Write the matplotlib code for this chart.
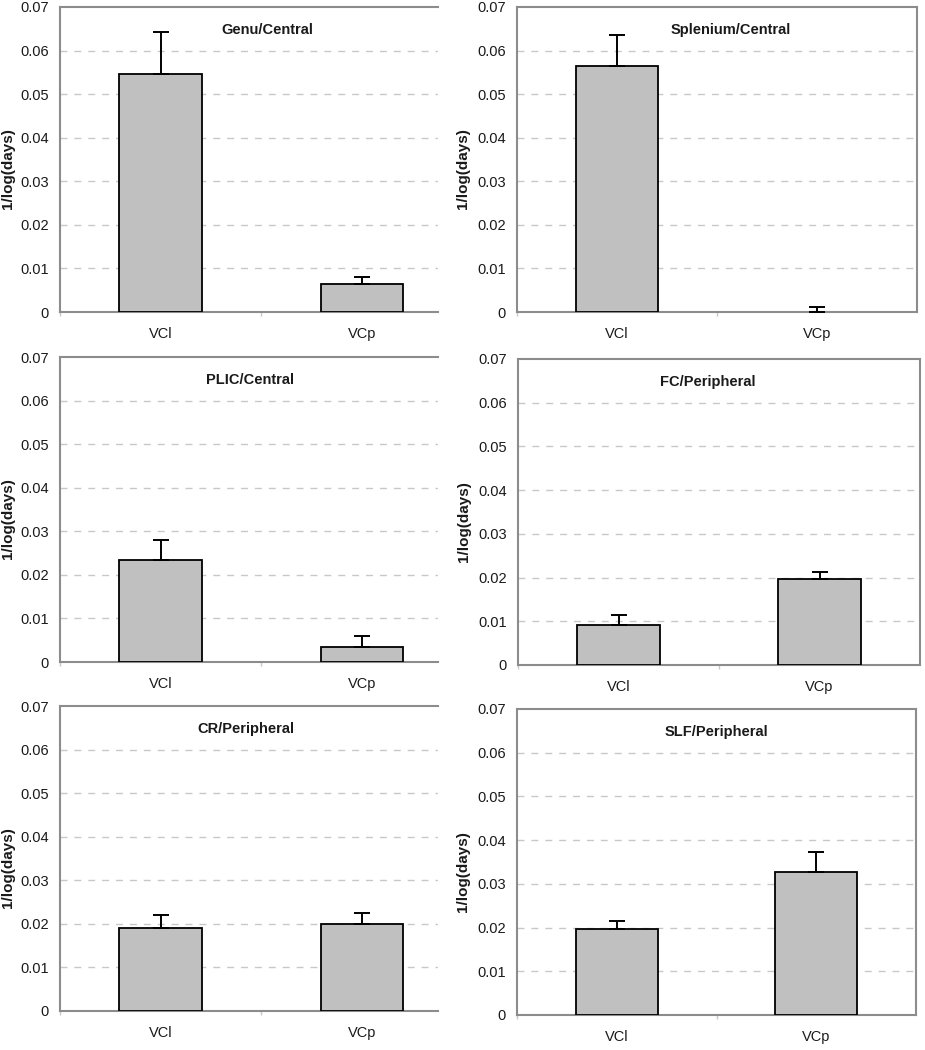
import numpy as np
import matplotlib
matplotlib.use("Agg")
import matplotlib.pyplot as plt

plt.rcParams['font.family'] = ['Liberation Sans', 'DejaVu Sans']

# Data
groups = ["VCl", "VCp"]
titles = ["Genu/Central", "Splenium/Central", "PLIC/Central",
          "FC/Peripheral", "CR/Peripheral", "SLF/Peripheral"]
means = [
    [0.0547, 0.0065],
    [0.0565, 0.0],
    [0.0235, 0.0035],
    [0.0091, 0.0197],
    [0.0190, 0.0199],
    [0.0196, 0.0328],
]
errors = [
    [0.0096, 0.0015],
    [0.0071, 0.0011],
    [0.0045, 0.0025],
    [0.0024, 0.0015],
    [0.0030, 0.0025],
    [0.0019, 0.0045],
]
yticks = [0, 0.01, 0.02, 0.03, 0.04, 0.05, 0.06, 0.07]
ytick_labels = ["0", "0.01", "0.02", "0.03", "0.04", "0.05", "0.06", "0.07"]

W, H = 925, 1050
# panel boxes in pixels: left, right, top, bottom
boxes = [
    (60, 438, 7, 312),
    (517, 917, 7, 312),
    (60, 438, 357, 662),
    (518, 920, 359, 665),
    (60, 438, 706, 1011),
    (517, 916, 709, 1015),
]
title_x = [0.548, 0.535, 0.503, 0.473, 0.492, 0.499]
frame_col = "#8c8c8c"
text_col = "#1a1a1a"

fig = plt.figure(figsize=(W / 100, H / 100), dpi=100)

for i in range(6):
    l, r, t, b = boxes[i]
    ax = fig.add_axes([l / W, 1 - b / H, (r - l) / W, (b - t) / H])
    x = np.arange(len(groups))
    # zero-height bars leave no outline in the original
    lw = [1.3 if v > 0 else 0 for v in means[i]]
    ax.bar(x, means[i], width=0.41, color="#c0c0c0", edgecolor="black",
           linewidth=lw, zorder=3)
    ax.errorbar(x, means[i], yerr=[np.zeros(2), errors[i]], fmt="none",
                ecolor="black", elinewidth=1.4, capsize=5.5, capthick=1.4, zorder=4)

    left_col = (i % 2 == 0)
    ax.set_xlim(-0.5, 1.378 if left_col else 1.5)
    ax.set_ylim(0, 0.07)
    ax.set_yticks(yticks)
    ax.set_yticklabels(ytick_labels)
    ax.set_xticks(x)
    ax.set_xticklabels(groups)
    ax.set_xticks([-0.5, 0.5], minor=True)
    ax.tick_params(axis="x", which="major", length=0, pad=11, labelsize=10.5, colors=text_col)
    ax.tick_params(axis="x", which="minor", length=3, width=1, color="#c8c8c8", direction="out")
    ax.tick_params(axis="y", length=0, pad=8, labelsize=10.5, colors=text_col)

    for y in yticks[1:-1]:
        ax.axhline(y, color="#c8c8c8", linestyle=(0, (5, 5)), linewidth=1, zorder=1)

    for side in ["left", "bottom", "top", "right"]:
        ax.spines[side].set_color(frame_col)
        ax.spines[side].set_linewidth(1.5)
    if left_col:
        ax.spines["right"].set_visible(False)

    ax.set_ylabel("1/log(days)", fontsize=11, fontweight="bold", color=text_col)
    ax.yaxis.set_label_coords(-0.118, 0.47)
    ax.text(title_x[i], 0.925, titles[i], transform=ax.transAxes, ha="center",
            va="center", fontsize=10.5, fontweight="bold", color=text_col)

fig.savefig("out.png", dpi=100)
